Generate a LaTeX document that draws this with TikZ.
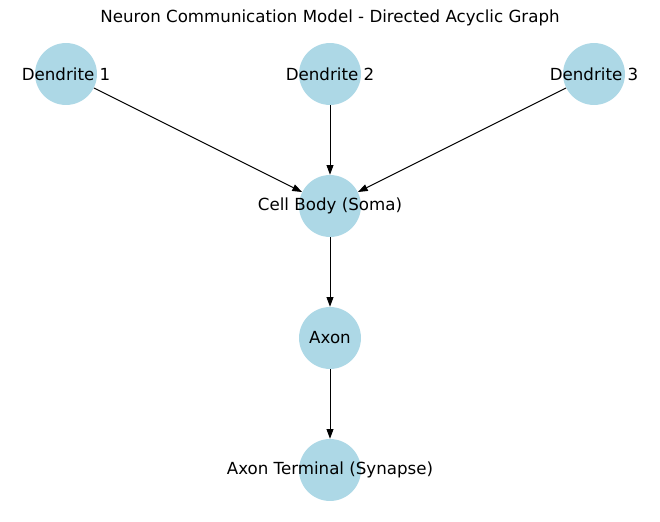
\documentclass[tikz,border=0pt]{standalone}
\usepackage{fontspec}
\setmainfont{DejaVu Sans}
\usetikzlibrary{arrows.meta}
\definecolor{lightblue}{HTML}{ADD8E6}
\tikzset{
  neuron/.style={circle, fill=lightblue, minimum size=44.6pt, inner sep=0pt},
  lbl/.style={font=\fontsize{12}{14}\selectfont, inner sep=0pt},
  link/.style={-{Stealth[length=7pt, width=5pt, inset=0pt]}, line width=0.7pt}
}
\begin{document}
\begin{tikzpicture}[x=0.72pt, y=-0.72pt]
        \useasboundingbox (0,0) rectangle (660,522);
        \node[lbl] (title) at (330,18) {Neuron Communication Model - Directed Acyclic Graph};

        % Dendriten
        \node[neuron] (d1) at (66,74) {};
        \node[neuron] (d2) at (330,74) {};
        \node[neuron] (d3) at (594,74) {};

        % Zellkoerper und Axon
        \node[neuron] (soma) at (330,206) {};
        \node[neuron] (axon) at (330,338) {};
        \node[neuron] (term) at (330,470) {};

        \node[lbl] at (d1) {Dendrite 1};
        \node[lbl] at (d2) {Dendrite 2};
        \node[lbl] at (d3) {Dendrite 3};
        \node[lbl] at (soma) {Cell Body (Soma)};
        \node[lbl] at (axon) {Axon};
        \node[lbl] at (term) {Axon Terminal (Synapse)};

        \draw[link] (d1) -- (soma);
        \draw[link] (d2) -- (soma);
        \draw[link] (d3) -- (soma);
        \draw[link] (soma) -- (axon);
        \draw[link] (axon) -- (term);
    \end{tikzpicture}
\end{document}
